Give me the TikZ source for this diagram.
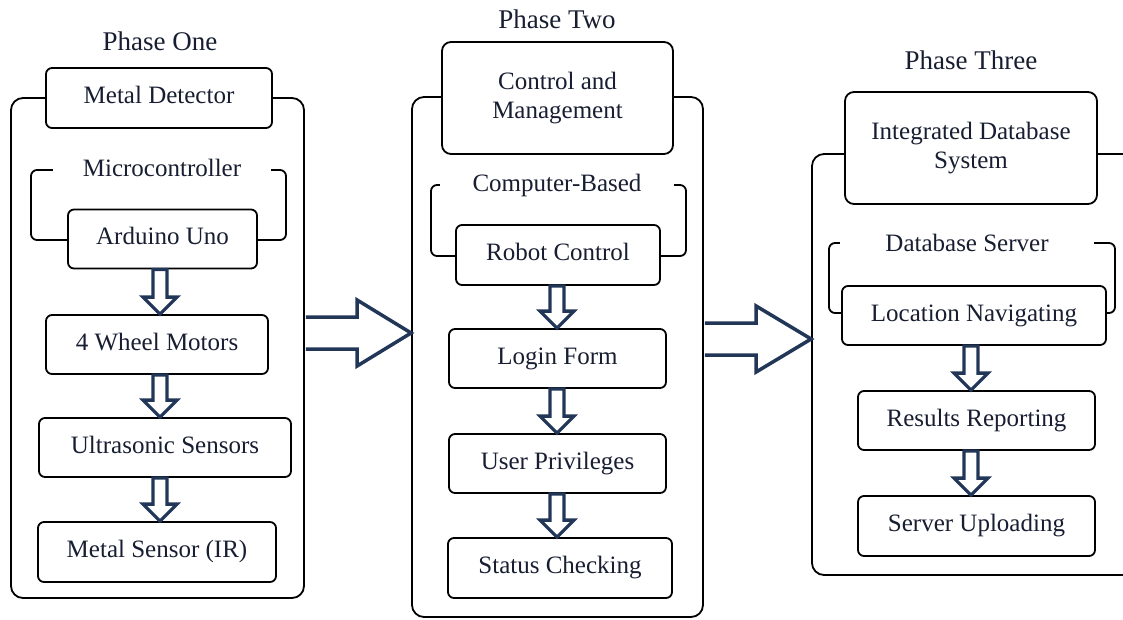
\documentclass[tikz,border=0pt]{standalone}
\usepackage{fontspec}
\setmainfont{LiberationSerif-Regular.ttf}
\usetikzlibrary{calc}
\definecolor{inktext}{RGB}{24,30,50}
\definecolor{arrowblue}{RGB}{34,54,88}
\begin{document}
\begin{tikzpicture}[x=1pt,y=-1pt,line join=round,font=\fontsize{25}{29}\selectfont,text=inktext,
	blk/.style={draw=black,line width=1.8pt,rounded corners=6pt,fill=white,inner sep=0pt,minimum height=59pt,text height=17pt,text depth=5.5pt},
	blktwo/.style={draw=black,line width=1.8pt,rounded corners=9pt,fill=white,inner sep=0pt,minimum height=112pt,align=center},
	phasebox/.style={draw=black,line width=1.8pt,rounded corners=12pt,inner sep=0pt},
	grp/.style={draw=black,line width=1.8pt,rounded corners=6pt},
	grplabel/.style={fill=white,inner ysep=2pt},
	title/.style={font=\fontsize{27}{31}\selectfont},
	dnarrow/.style={draw=arrowblue,line width=3.3pt,fill=white,line join=miter},
	rtarrow/.style={draw=arrowblue,line width=3.5pt,fill=white,line join=miter}]
				\useasboundingbox (0,0) rectangle (1123,619);
				\clip (0,0) rectangle (1123,619);
				% phase one
				\node[title] (t1) at (160,41) {Phase One};
				\node[phasebox,minimum width=293pt,minimum height=500pt] (one) at (157.5,348) {};
				\draw[grp] (31,170) rectangle (286,240);
				\node[blk,minimum width=226pt,minimum height=60pt] (md) at (159,98) {Metal Detector};
				\node[grplabel,inner xsep=30pt] (mc) at (162,168) {Microcontroller};
				\node[blk,minimum width=189pt] (ard) at (162.5,239) {Arduino Uno};
				\node[blk,minimum width=222pt] (whl) at (157,344.5) {4 Wheel Motors};
				\node[blk,minimum width=252pt] (ult) at (165,447.5) {Ultrasonic Sensors};
				\node[blk,minimum width=238pt,minimum height=60pt] (msr) at (157,552) {Metal Sensor (IR)};
				% phase two
				\node[title] (t2) at (557,19) {Phase Two};
				\node[phasebox,minimum width=291pt,minimum height=520pt] (two) at (557.5,357) {};
				\draw[grp] (431,185) rectangle (686,256);
				\node[blktwo,minimum width=231pt] (cm) at (557.5,98) {Control and\\Management};
				\node[grplabel,inner xsep=33pt] (cb) at (557,185) {Computer-Based};
				\node[blk,minimum width=204pt,minimum height=60pt] (rc) at (558,255) {Robot Control};
				\node[blk,minimum width=217pt] (lf) at (557.5,358.5) {Login Form};
				\node[blk,minimum width=217pt] (up) at (557.5,463.5) {User Privileges};
				\node[blk,minimum width=224pt,minimum height=60pt] (sc) at (560,568) {Status Checking};
				% phase three
				\node[title] (t3) at (971,60) {Phase Three};
				\node[phasebox,minimum width=328pt,minimum height=421pt] (three) at (976,364.5) {};
				\draw[grp] (829,243) rectangle (1115,313);
				\node[blktwo,minimum width=252pt] (ids) at (971,148) {Integrated Database\\System};
				\node[grplabel,inner xsep=45pt] (ds) at (967,243) {Database Server};
				\node[blk,minimum width=264pt] (ln) at (974,315.5) {Location Navigating};
				\node[blk,minimum width=237pt] (rr) at (976.5,420.5) {Results Reporting};
				\node[blk,minimum width=237pt,minimum height=60pt] (su) at (976.5,526) {Server Uploading};
				% arrows inside the phases
				\foreach \a/\b/\t in {ard/whl/t1,whl/ult/t1,ult/msr/t1,rc/lf/t2,lf/up/t2,up/sc/t2,ln/rr/t3,rr/su/t3}
					\draw[dnarrow] let \p1=(\a.south -| \t), \p2=(\b.north -| \t) in (\x1-7pt,\y1)--(\x1-7pt,\y2+17pt)--(\x1-17pt,\y2+17pt)--(\x2,\y2)--(\x1+17pt,\y2+17pt)--(\x1+7pt,\y2+17pt)--(\x1+7pt,\y1)--cycle;
				% arrows between the phases
				\draw[rtarrow] let \p1=(one.east |- 0,333), \p2=(two.west |- 0,333) in (\x1+0.9pt,\y1+16pt)--(\x2-54pt,\y1+16pt)--(\x2-54pt,\y1+33pt)--(\x2,\y2)--(\x2-54pt,\y1-33pt)--(\x2-54pt,\y1-16pt)--(\x1+0.9pt,\y1-16pt);
				\draw[rtarrow] let \p1=(two.east |- 0,339), \p2=(three.west |- 0,339) in (\x1+0.9pt,\y1+16pt)--(\x2-55pt,\y1+16pt)--(\x2-55pt,\y1+33pt)--(\x2,\y2)--(\x2-55pt,\y1-33pt)--(\x2-55pt,\y1-16pt)--(\x1+0.9pt,\y1-16pt);
			\end{tikzpicture}
\end{document}
